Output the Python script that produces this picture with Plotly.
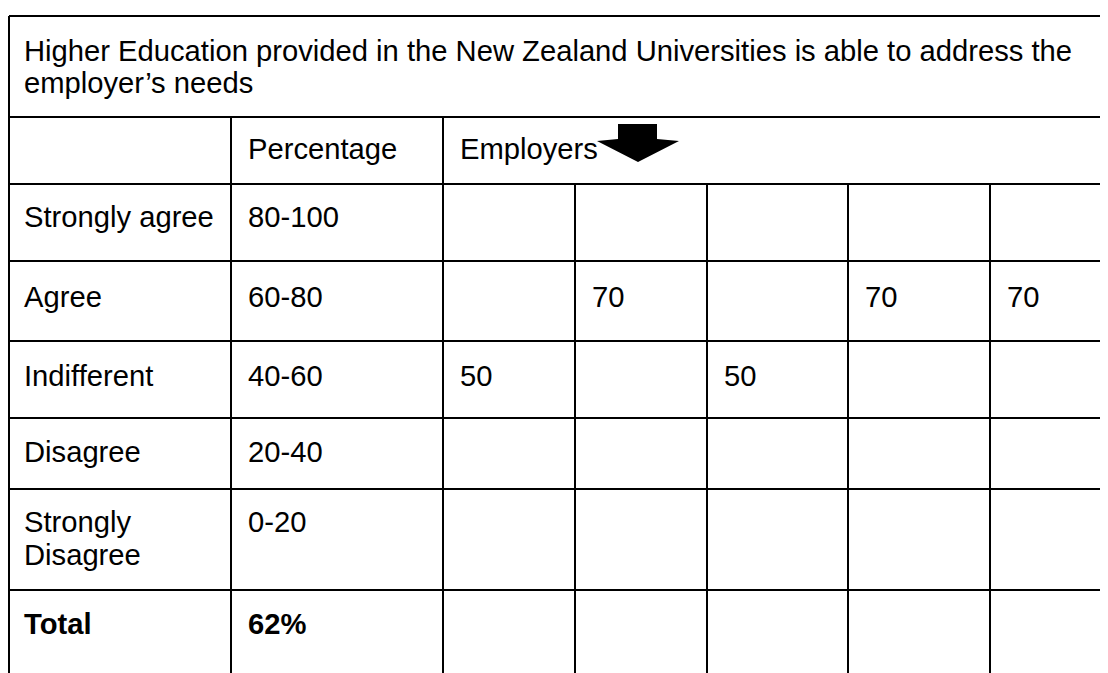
import plotly.graph_objects as go

# ---------------- data ----------------
title_lines = ["Higher Education provided in the New Zealand Universities is able to address the",
               "employer\u2019s needs"]
header_labels = ["", "Percentage", "Employers"]
row_labels = ["Strongly agree", "Agree", "Indifferent", "Disagree", "Strongly\nDisagree", "Total"]
percentage_ranges = ["80-100", "60-80", "40-60", "20-40", "0-20", "62%"]
employer_ids = [1, 2, 3, 4, 5]
employer_rating = ["Indifferent", "Agree", "Indifferent", "Agree", "Agree"]
employer_scores = [50, 70, 50, 70, 70]

# ---------------- layout geometry (pixels) ----------------
W, H = 1108, 673
OFF = 8  # page body margin
h_lines = [16, 117, 184, 261, 341, 418, 489, 590]
left_border = 9
col_x = [7, 231, 443, 575, 707, 848, 990]
row_text_y = [217, 297, 376, 452, (522, 555), 624]
header_y = 149
title_y = [51, 83]
pad = 15
FONT = "Liberation Sans, Arial, Helvetica, sans-serif"
FS = 29.2
LW = 2

fig = go.Figure()
shapes = []
annotations = []

def line(x0, y0, x1, y1):
    shapes.append(dict(type="line", xref="x", yref="y", x0=x0, y0=y0, x1=x1, y1=y1,
                       line=dict(color="black", width=LW)))

def text(x, y, s, bold=False):
    annotations.append(dict(xref="x", yref="y", x=x, y=y, text=("<b>%s</b>" % s) if bold else s,
                            showarrow=False, xanchor="left", yanchor="middle",
                            font=dict(family=FONT, size=FS, color="black")))

END_X = W + OFF + 5
END_Y = H + OFF + 5
# horizontal lines
for y in h_lines:
    line(left_border, y, END_X, y)
# left border
line(left_border, h_lines[0], left_border, END_Y)
# first two column separators from header down
line(col_x[1], h_lines[1], col_x[1], END_Y)
line(col_x[2], h_lines[1], col_x[2], END_Y)
# employer column separators from first data row down
for x in col_x[3:]:
    line(x, h_lines[2], x, END_Y)

# title
for ty, t in zip(title_y, title_lines):
    text(col_x[0] + pad, ty, t)

# header
text(col_x[1] + pad, header_y, header_labels[1])
text(col_x[2] + pad, header_y, header_labels[2])

# arrow after "Employers"
shapes.append(dict(type="path", xref="x", yref="y",
                   path="M 618 124 L 657 124 L 657 139 L 679 141 L 638 162 L 597 141 L 618 139 Z",
                   fillcolor="black", line=dict(color="black", width=0)))

# rows
for i, (lab, pct) in enumerate(zip(row_labels, percentage_ranges)):
    bold = lab == "Total"
    ys = row_text_y[i]
    parts = lab.split("\n")
    if isinstance(ys, tuple):
        for yy, p in zip(ys, parts):
            text(col_x[0] + pad, yy, p, bold)
        text(col_x[1] + pad, ys[0], pct, bold)
    else:
        text(col_x[0] + pad, ys, lab, bold)
        text(col_x[1] + pad, ys, pct, bold)

# employer values
for e, rating, score in zip(employer_ids, employer_rating, employer_scores):
    r = row_labels.index(rating)
    text(col_x[1 + e] + pad, row_text_y[r], str(score))

fig.update_layout(
    width=W, height=H,
    margin=dict(l=0, r=0, t=0, b=0),
    paper_bgcolor="white", plot_bgcolor="white",
    xaxis=dict(range=[OFF, W + OFF], visible=False, fixedrange=True),
    yaxis=dict(range=[H + OFF, OFF], visible=False, fixedrange=True),
    shapes=shapes, annotations=annotations, showlegend=False,
)
fig.write_html("out.html")
